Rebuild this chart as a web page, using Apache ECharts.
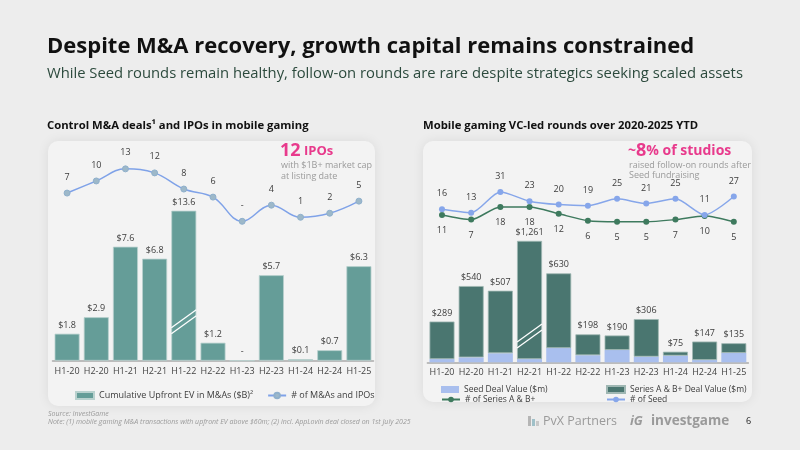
<!DOCTYPE html>
<html>
<head>
<meta charset="utf-8">
<script src="https://cdn.jsdelivr.net/npm/echarts@6/dist/echarts.min.js"></script>
<style>
  html, body { margin: 0; padding: 0; background: #ededed; }
  #main { width: 800px; height: 450px; }
</style>
</head>
<body>
<div id="main"></div>
<script>
// categories (half-years)
const categories = ['H1-20', 'H2-20', 'H1-21', 'H2-21', 'H1-22', 'H2-22', 'H1-23', 'H2-23', 'H1-24', 'H2-24', 'H1-25'];
// left chart: cumulative upfront EV ($B) and number of M&As / IPOs
const maEv = [1.8, 2.9, 7.6, 6.8, 13.6, 1.2, 0, 5.7, 0.1, 0.7, 6.3];
const maCount = [7, 10, 13, 12, 8, 6, 0, 4, 1, 2, 5];
// right chart: deal values ($m) and round counts
const seedValue = [23, 35, 64, 23, 101, 50, 87, 40, 47, 16, 66];
const seriesABValue = [266, 505, 443, 1238, 529, 148, 103, 266, 28, 131, 69];
const seedCount = [16, 13, 31, 23, 20, 19, 25, 21, 25, 11, 27];
const seriesABCount = [11, 7, 18, 18, 12, 6, 5, 5, 7, 10, 5];
// broken bars are drawn up to these caps
const evCap = 10;
const vcCap = 860;

const FONT = '"Open Sans", sans-serif';
const TEAL = '#659d98';
const DARK = '#4a7670';
const LIGHTBLUE = '#a9bfee';
const BLUE = '#86a6ea';
const GREEN = '#3e7a5e';
const PINK = '#e83a8c';

const vcTotal = seedValue.map((v, i) => v + seriesABValue[i]);
const evShown = maEv.map(v => Math.min(v, evCap));
const abShown = seriesABValue.map((v, i) => Math.min(vcTotal[i], vcCap) - seedValue[i]);

const myChart = echarts.init(document.getElementById('main'));

const catAxis = (gridIndex, show) => ({
  type: 'category', gridIndex: gridIndex, data: categories,
  show: show,
  axisLine: { lineStyle: { color: '#aaaaaa', width: 1.5 } },
  axisTick: { show: false },
  axisLabel: { color: '#444', fontSize: 9, fontFamily: FONT, margin: 6, interval: 0 }
});
const valAxis = (gridIndex, max) => ({
  type: 'value', gridIndex: gridIndex, min: 0, max: max, show: false
});
const labelStyle = { fontSize: 9, color: '#3c3c3c', fontFamily: FONT };
const legendText = { fontSize: 9, color: '#3c3c3c', fontFamily: FONT };
const legendTextR = { fontSize: 8.5, color: '#3c3c3c', fontFamily: FONT };

const option = {
  backgroundColor: '#ededed',
  textStyle: { fontFamily: FONT },
  animation: false,
  grid: [
    { left: 52.5, width: 321, top: 150.7, height: 210 },
    { left: 52.5, width: 321, top: 160.8, height: 60.5 },
    { left: 427.4, width: 321, top: 221.1, height: 141.2 },
    { left: 427.4, width: 321, top: 181.6, height: 46 }
  ],
  xAxis: [catAxis(0, true), catAxis(1, false), catAxis(2, true), catAxis(3, false)],
  yAxis: [valAxis(0, 14), valAxis(1, 15), valAxis(2, 1000), valAxis(3, 40)],
  legend: [
    {
      left: 70, top: 386, itemWidth: 18, itemHeight: 7, itemGap: 14, textStyle: legendText,
      data: [{ name: 'Cumulative Upfront EV in M&As ($B)²', icon: 'rect' }, '# of M&As and IPOs']
    },
    {
      left: 436, top: 380, itemWidth: 18, itemHeight: 7, textStyle: legendTextR,
      data: [{ name: 'Seed Deal Value ($m)', icon: 'rect' }]
    },
    {
      left: 601, top: 380, itemWidth: 18, itemHeight: 7, textStyle: legendTextR,
      data: [{ name: 'Series A & B+ Deal Value ($m)', icon: 'rect' }]
    },
    {
      left: 436, top: 390, itemWidth: 18, itemHeight: 7, textStyle: legendTextR,
      data: ['# of Series A & B+']
    },
    {
      left: 601, top: 390, itemWidth: 18, itemHeight: 7, textStyle: legendTextR,
      data: ['# of Seed']
    }
  ],
  series: [
    {
      name: 'Cumulative Upfront EV in M&As ($B)²', type: 'bar',
      xAxisIndex: 0, yAxisIndex: 0, data: evShown, barWidth: 25,
      itemStyle: { color: TEAL, borderColor: '#b9d1ce', borderWidth: 0.8 },
      label: {
        show: true, position: 'top', distance: 4, ...labelStyle,
        formatter: p => maEv[p.dataIndex] === 0 ? '-' : '$' + maEv[p.dataIndex].toFixed(1)
      }
    },
    {
      name: '# of M&As and IPOs', type: 'line', smooth: 0.4,
      xAxisIndex: 1, yAxisIndex: 1, data: maCount,
      symbol: 'circle', symbolSize: 6,
      lineStyle: { color: '#7fa2e8', width: 1.5 },
      itemStyle: { color: '#9db8c9', borderColor: '#8fb0cc', borderWidth: 1 },
      label: {
        show: true, position: 'top', distance: 8, ...labelStyle,
        formatter: p => p.value === 0 ? '-' : p.value
      }
    },
    {
      name: 'Seed Deal Value ($m)', type: 'bar', stack: 'vc',
      xAxisIndex: 2, yAxisIndex: 2, data: seedValue, barWidth: 25,
      itemStyle: { color: LIGHTBLUE }
    },
    {
      name: 'Series A & B+ Deal Value ($m)', type: 'bar', stack: 'vc',
      xAxisIndex: 2, yAxisIndex: 2, data: abShown, barWidth: 25,
      itemStyle: { color: DARK, borderColor: '#9fb7b3', borderWidth: 0.8 },
      label: {
        show: true, position: 'top', distance: 4, ...labelStyle,
        formatter: p => '$' + vcTotal[p.dataIndex].toLocaleString('en-US')
      }
    },
    {
      name: '# of Series A & B+', type: 'line', smooth: 0.25,
      xAxisIndex: 3, yAxisIndex: 3, data: seriesABCount,
      symbol: 'circle', symbolSize: 6,
      lineStyle: { color: GREEN, width: 1.5 },
      itemStyle: { color: GREEN },
      label: { show: true, position: 'bottom', distance: 8, ...labelStyle }
    },
    {
      name: '# of Seed', type: 'line', smooth: 0.25,
      xAxisIndex: 3, yAxisIndex: 3, data: seedCount,
      symbol: 'circle', symbolSize: 6,
      lineStyle: { color: BLUE, width: 1.5 },
      itemStyle: { color: BLUE },
      label: { show: true, position: 'top', distance: 8, ...labelStyle }
    }
  ]
};
myChart.setOption(option);

// white slanted lines marking the broken bars
function breakLines(seriesIndex, idx, value) {
  const c = myChart.convertToPixel({ seriesIndex: seriesIndex }, [idx, value]);
  const lines = [];
  [-3, 3].forEach(off => {
    lines.push({
      type: 'line', z: 100,
      shape: { x1: c[0] - 12.5, y1: c[1] + 9 + off, x2: c[0] + 12.5, y2: c[1] - 9 + off },
      style: { stroke: '#ffffff', lineWidth: 1.3 }
    });
  });
  return lines;
}

const txt = (text, x, y, font, fill) => ({
  type: 'text', x: x, y: y,
  style: { text: text, font: font, fill: fill, textVerticalAlign: 'middle' }
});

const panel = (x, y, w, h) => ({
  type: 'rect', z: -10, shape: { x: x, y: y, width: w, height: h, r: 10 },
  style: { fill: '#f3f3f3', shadowBlur: 12, shadowColor: 'rgba(0,0,0,0.08)' }
});

const graphics = [
  panel(48, 141, 327, 265),
  panel(423, 141, 329, 261),
  txt('Despite M&A recovery, growth capital remains constrained', 47, 47, 'bold 22px "Open Sans"', '#111'),
  txt('While Seed rounds remain healthy, follow-on rounds are rare despite strategics seeking scaled assets', 47, 74, '14.8px "Open Sans"', '#2c4a3d'),
  txt('Control M&A deals¹ and IPOs in mobile gaming', 47, 126, 'bold 11.3px "Open Sans"', '#111'),
  txt('Mobile gaming VC-led rounds over 2020-2025 YTD', 423, 126, 'bold 11.3px "Open Sans"', '#111'),
  {
    type: 'text', x: 280, y: 151,
    style: {
      text: '{a|12} {b|IPOs}', textVerticalAlign: 'middle',
      rich: {
        a: { font: 'bold 18px "Open Sans"', fill: PINK },
        b: { font: 'bold 13px "Open Sans"', fill: PINK }
      }
    }
  },
  txt('with $1B+ market cap', 281, 165, '9px "Open Sans"', '#9a9a9a'),
  txt('at listing date', 281, 176, '9px "Open Sans"', '#9a9a9a'),
  {
    type: 'text', x: 628, y: 151,
    style: {
      text: '{b|~}{a|8}{b|% of studios}', textVerticalAlign: 'middle',
      rich: {
        a: { font: 'bold 18px "Open Sans"', fill: PINK },
        b: { font: 'bold 14px "Open Sans"', fill: PINK }
      }
    }
  },
  txt('raised follow-on rounds after', 629, 165, '9px "Open Sans"', '#9a9a9a'),
  txt('Seed fundraising', 629, 175, '9px "Open Sans"', '#9a9a9a'),
  txt('Source: InvestGame', 48, 414, 'italic 7px "Open Sans"', '#9a9a9a'),
  txt('Note: (1) mobile gaming M&A transactions with upfront EV above $60m; (2) incl. AppLovin deal closed on 1st July 2025', 48, 422, 'italic 7px "Open Sans"', '#9a9a9a'),
  { type: 'rect', shape: { x: 528, y: 416, width: 3, height: 10 }, style: { fill: '#b5b5b5' } },
  { type: 'rect', shape: { x: 532, y: 419, width: 3, height: 7 }, style: { fill: '#9fc0c8' } },
  { type: 'rect', shape: { x: 536, y: 421, width: 3, height: 5 }, style: { fill: '#c8c8c8' } },
  txt('PvX Partners', 543, 421, '12.5px "Open Sans"', '#9a9a9a'),
  txt('iG', 630, 421, 'italic bold 13px "Open Sans"', '#9a9a9a'),
  txt('investgame', 651, 421, 'bold 13.5px "Open Sans"', '#9a9a9a'),
  txt('6', 746, 421, '9px "Open Sans"', '#222')
].concat(breakLines(0, 4, 2.6), breakLines(3, 3, 186));

myChart.setOption({ graphic: graphics });
</script>
</body>
</html>
